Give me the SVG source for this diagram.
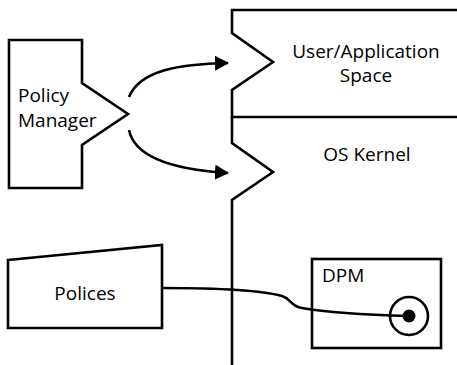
<svg xmlns="http://www.w3.org/2000/svg" width="457" height="365" viewBox="0 0 457 365">
<style>
.o{fill:none;stroke:#000;stroke-width:2.6;stroke-linejoin:miter}
.c{fill:none;stroke:#000;stroke-width:2.6}
text{font-family:"Open Sans","Noto Sans",sans-serif;font-size:19px;fill:#000}
</style>
<defs>
<marker id="ah" markerWidth="15" markerHeight="15" refX="13" refY="7.5" orient="auto" markerUnits="userSpaceOnUse">
<path d="M0,0 L14,7.5 L0,15 Z" fill="#000"/>
</marker>
</defs>
<rect width="457" height="365" fill="#fff"/>
<g id="space">
<path class="o" d="M457,10 H232 V33 L273,62 L232,90 V117 H457"/>
<text x="366" y="58" text-anchor="middle">User/Application</text>
<text x="366" y="82" text-anchor="middle">Space</text>
</g>
<g id="kernel">
<path class="o" d="M232,117 V143 L273,172 L232,200 V365"/>
<text x="367" y="161" text-anchor="middle">OS Kernel</text>
</g>
<g id="policy-manager">
<path class="o" d="M9,40 H82 V83 L128,114 L82,145 V188 H9 Z"/>
<text x="18" y="102">Policy</text>
<text x="18" y="127">Manager</text>
</g>
<g id="polices">
<path class="o" d="M8,260 L162,245 V328 H8 Z"/>
<text x="85" y="300" text-anchor="middle">Polices</text>
</g>
<g id="dpm">
<rect class="o" x="312" y="259" width="129" height="89"/>
<text x="322" y="282">DPM</text>
<circle cx="409" cy="316" r="19" class="c"/>
<circle cx="409" cy="316" r="6.5" fill="#000"/>
</g>
<g id="connectors">
<path class="c" d="M129,97 C140,70 180,64 228,63" marker-end="url(#ah)"/>
<path class="c" d="M129,130 C135,160 180,170 228,173" marker-end="url(#ah)"/>
<path class="c" d="M162,288 C220,288 260,290 282,296 C292,299 290,306 302,308 C330,313 370,315 409,316"/>
</g>
</svg>
